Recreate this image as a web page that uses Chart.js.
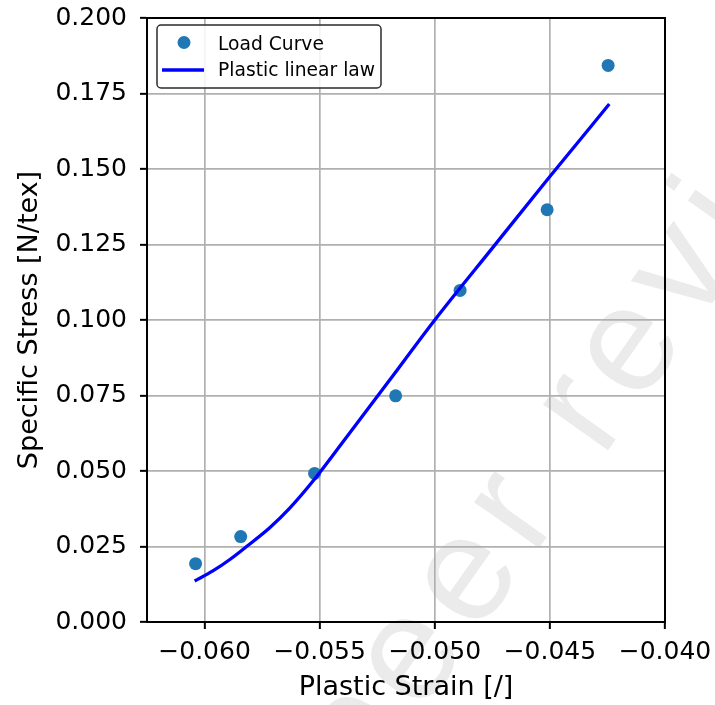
<!DOCTYPE html>
<html><head><meta charset="utf-8">
<script src="https://cdn.jsdelivr.net/npm/chart.js@4.4.1/dist/chart.umd.min.js"></script>
<style>html,body{margin:0;padding:0;background:#fff;} canvas{display:block;}</style>
</head><body>
<canvas id="c" width="715" height="705"></canvas>
<script>
// ---- data ----
const seriesLabels = ['Load Curve', 'Plastic linear law'];
const loadStrain = [-0.06039, -0.05843, -0.05522, -0.05170, -0.04890, -0.04512, -0.04247];
const loadStress = [0.0193, 0.0283, 0.0492, 0.0749, 0.1098, 0.1365, 0.1843];
const lawStrain = [-0.06043, -0.05964, -0.05890, -0.05819, -0.05717, -0.05630, -0.05520, -0.05400, -0.05200, -0.05000, -0.04750, -0.04500, -0.04242];
const lawStress = [0.0136, 0.0169, 0.0207, 0.0249, 0.0312, 0.0377, 0.0475, 0.0595, 0.0797, 0.1000, 0.1238, 0.1475, 0.1715];
const xTicks = [-0.060, -0.055, -0.050, -0.045, -0.040];
const xTickLabels = ['\u22120.060', '\u22120.055', '\u22120.050', '\u22120.045', '\u22120.040'];
const yTicks = [0, 0.025, 0.05, 0.075, 0.1, 0.125, 0.15, 0.175, 0.2];
const yTickLabels = ['0.000', '0.025', '0.050', '0.075', '0.100', '0.125', '0.150', '0.175', '0.200'];
const xTitle = 'Plastic Strain [/]';
const yTitle = 'Specific Stress [N/tex]';
const watermarkText = 'peer reviewed';

const FONT = "'DejaVu Sans', 'Liberation Sans', sans-serif";

function lookup(ticks, labels, v) {
  const i = ticks.findIndex(t => Math.abs(t - v) < 1e-9);
  return i >= 0 ? labels[i] : '';
}

const watermarkPlugin = {
  id: 'watermark',
  beforeDraw(chart) {
    const ctx = chart.ctx;
    ctx.save();
    ctx.fillStyle = '#ffffff';
    ctx.fillRect(0, 0, chart.width, chart.height);
    ctx.translate(364, 795);
    ctx.rotate(-54.7 * Math.PI / 180);
    ctx.font = "150px 'Liberation Sans', Arial, sans-serif";
    try { ctx.letterSpacing = '14px'; } catch (e) {}
    ctx.fillStyle = '#ebebeb';
    ctx.textAlign = 'left';
    ctx.textBaseline = 'alphabetic';
    ctx.fillText(watermarkText, 0, 0);
    ctx.restore();
  }
};

const framePlugin = {
  id: 'frameLegend',
  afterDatasetsDraw(chart) {
    const ctx = chart.ctx;
    const a = chart.chartArea;
    ctx.save();
    ctx.strokeStyle = '#000';
    ctx.lineWidth = 2;
    ctx.strokeRect(a.left, a.top, a.right - a.left, a.bottom - a.top);

    // legend
    const bx = 157, by = 25, bw = 224, bh = 63, r = 4;
    ctx.beginPath();
    ctx.moveTo(bx + r, by);
    ctx.arcTo(bx + bw, by, bx + bw, by + bh, r);
    ctx.arcTo(bx + bw, by + bh, bx, by + bh, r);
    ctx.arcTo(bx, by + bh, bx, by, r);
    ctx.arcTo(bx, by, bx + bw, by, r);
    ctx.closePath();
    ctx.fillStyle = 'rgba(255,255,255,0.85)';
    ctx.fill();
    ctx.strokeStyle = '#2b2b2b';
    ctx.lineWidth = 1.5;
    ctx.stroke();

    const ds = chart.data.datasets;
    ctx.fillStyle = ds[0].backgroundColor;
    ctx.beginPath();
    ctx.arc(184, 42.5, 6.5, 0, Math.PI * 2);
    ctx.fill();

    ctx.strokeStyle = ds[1].borderColor;
    ctx.lineWidth = 3.3;
    ctx.beginPath();
    ctx.moveTo(162, 70);
    ctx.lineTo(204, 70);
    ctx.stroke();

    ctx.fillStyle = '#000';
    ctx.font = "18.7px " + FONT;
    ctx.textAlign = 'left';
    ctx.textBaseline = 'alphabetic';
    ctx.fillText(ds[0].label, 218, 49.5);
    ctx.fillText(ds[1].label, 218, 76);
    ctx.restore();
  }
};

const gridCommon = {
  color: '#b0b0b0',
  lineWidth: 1.7,
  tickColor: '#000',
  tickLength: 7,
  tickWidth: 2,
  drawTicks: true
};

new Chart(document.getElementById('c'), {
  type: 'scatter',
  data: {
    datasets: [
      {
        label: seriesLabels[0],
        data: loadStrain.map((x, i) => ({x, y: loadStress[i]})),
        backgroundColor: '#1f77b4',
        borderColor: '#1f77b4',
        pointRadius: 6.5,
        pointHoverRadius: 6.5,
        pointBorderWidth: 0,
        showLine: false,
        order: 1
      },
      {
        label: seriesLabels[1],
        data: lawStrain.map((x, i) => ({x, y: lawStress[i]})),
        borderColor: '#0000ff',
        backgroundColor: '#0000ff',
        borderWidth: 3.3,
        pointRadius: 0,
        pointHoverRadius: 0,
        showLine: true,
        fill: false,
        cubicInterpolationMode: 'monotone',
        order: 0
      }
    ]
  },
  options: {
    responsive: false,
    animation: false,
    events: [],
    layout: {padding: {top: 18, right: 50, bottom: 0, left: 0}},
    plugins: {legend: {display: false}, tooltip: {enabled: false}},
    scales: {
      x: {
        type: 'linear',
        min: -0.0625,
        max: -0.040,
        afterBuildTicks: s => { s.ticks = xTicks.map(v => ({value: v})); },
        afterFit: s => { s.height = 83; s.paddingLeft = 0; s.paddingRight = 0; s.paddingTop = 0; s.paddingBottom = 0; },
        ticks: {
          callback: v => lookup(xTicks, xTickLabels, v),
          font: {family: FONT, size: 25},
          color: '#000',
          padding: 8,
          maxRotation: 0,
          autoSkip: false,
          includeBounds: false
        },
        grid: gridCommon,
        border: {color: '#000', width: 2},
        title: {display: true, text: xTitle, color: '#000', font: {family: FONT, size: 27}, padding: {top: 0, bottom: 1}}
      },
      y: {
        type: 'linear',
        min: 0,
        max: 0.2,
        afterBuildTicks: s => { s.ticks = yTicks.map(v => ({value: v})); },
        afterFit: s => { s.width = 147; s.paddingLeft = 0; s.paddingRight = 0; s.paddingTop = 0; s.paddingBottom = 0; },
        ticks: {
          callback: v => lookup(yTicks, yTickLabels, v),
          font: {family: FONT, size: 25},
          color: '#000',
          padding: 13,
          autoSkip: false,
          includeBounds: false
        },
        grid: gridCommon,
        border: {color: '#000', width: 2},
        title: {display: true, text: yTitle, color: '#000', font: {family: FONT, size: 27}, padding: {top: 14, bottom: 0}}
      }
    }
  },
  plugins: [watermarkPlugin, framePlugin]
});
</script>
</body></html>
